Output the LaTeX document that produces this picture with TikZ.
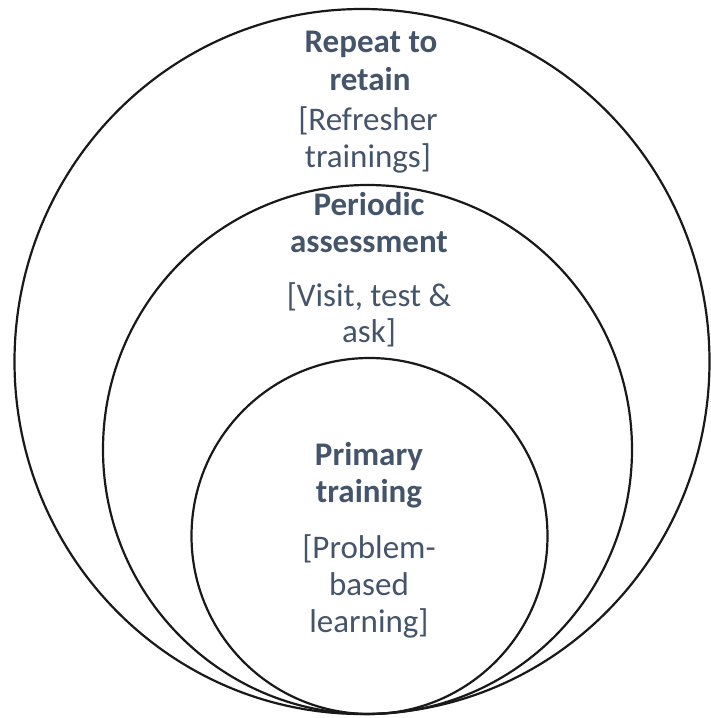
\documentclass[tikz,border=0pt]{standalone}
\usepackage{fontspec}
\setmainfont{Carlito}
\definecolor{txt}{HTML}{44546A}
\begin{document}
\begin{tikzpicture}[x=1pt,y=-1pt,
  ring/.style={draw=black!90,line width=2.2pt},
  hd/.style={text=txt,font=\fontsize{33}{38}\selectfont\bfseries,anchor=base,inner sep=0pt},
  sub/.style={text=txt,font=\fontsize{33}{38}\selectfont,anchor=base,inner sep=0pt}]
\useasboundingbox (0,0) rectangle (711,718);
\draw[ring] (362,361.5) ellipse [x radius=347.5,y radius=352.5];
\draw[ring] (367.5,449.5) circle [radius=264.5];
\draw[ring] (369.5,536) circle [radius=178];
% outer block
\node[hd]  (a1) at (371,52)  {Repeat to};
\node[hd]  (a2) at (370,90)  {retain};
\node[sub] (a3) at (368,130) {[Refresher};
\node[sub] (a4) at (368,167) {trainings]};
% middle block
\node[hd]  (b1) at (369,215) {Periodic};
\node[hd]  (b2) at (369,252) {assessment};
\node[sub] (b3) at (369,306) {[Visit, test \&};
\node[sub] (b4) at (369,342) {ask]};
% inner block
\node[hd]  (c1) at (369,465) {Primary};
\node[hd]  (c2) at (369,502) {training};
\node[sub] (c3) at (369,558) {[Problem-};
\node[sub] (c4) at (369,595) {based};
\node[sub] (c5) at (369,632) {learning]};
\end{tikzpicture}
\end{document}
